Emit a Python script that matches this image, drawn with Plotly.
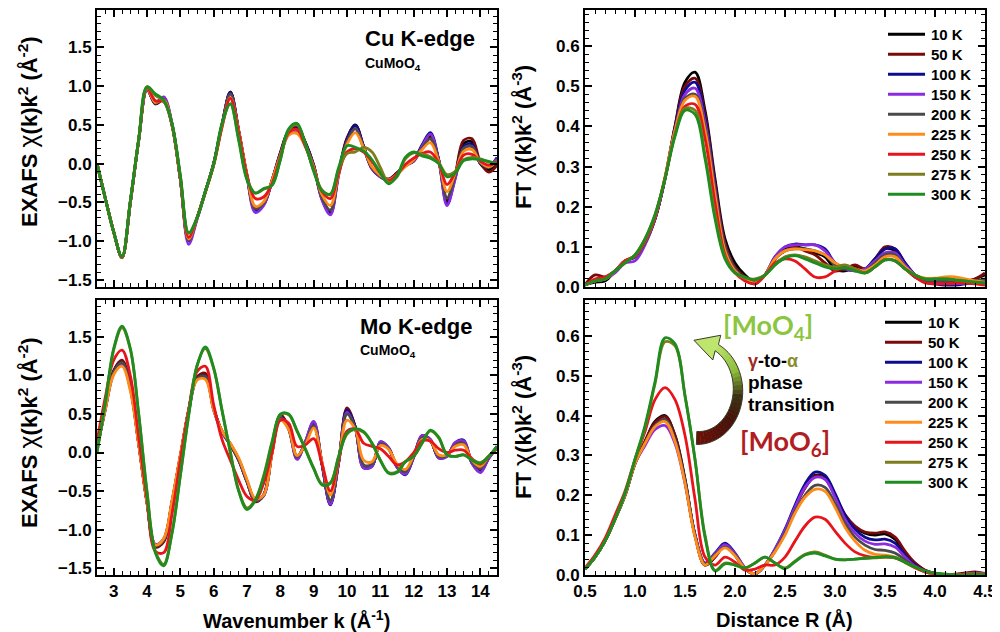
import math
import plotly.graph_objects as go

# ---------------- data ----------------
temps = ["10 K", "50 K", "100 K", "150 K", "200 K", "225 K", "250 K", "275 K", "300 K"]
colors = ["#000000", "#7a0a0a", "#0c0c8c", "#8a2be2", "#4a4a4a", "#ff8c1a", "#e8141c", "#7d7d1e", "#1e8c1e"]

k_grid = [2.5, 2.75, 3.0, 3.25, 3.5, 3.75, 4.0, 4.25, 4.5, 4.75,
          5.0, 5.25, 5.5, 5.75, 6.0, 6.25, 6.5, 6.75, 7.0, 7.25,
          7.5, 7.75, 8.0, 8.25, 8.5, 8.75, 9.0, 9.25, 9.5, 9.75,
          10.0, 10.25, 10.5, 10.75, 11.0, 11.25, 11.5, 11.75, 12.0, 12.25,
          12.5, 12.75, 13.0, 13.25, 13.5, 13.75, 14.0, 14.25, 14.5]

R_grid = [0.5, 0.6, 0.7, 0.8, 0.9, 1.0, 1.1, 1.2, 1.3, 1.4,
          1.5, 1.6, 1.7, 1.8, 1.9, 2.0, 2.1, 2.2, 2.3, 2.4,
          2.5, 2.6, 2.7, 2.8, 2.9, 3.0, 3.1, 3.2, 3.3, 3.4,
          3.5, 3.6, 3.7, 3.8, 3.9, 4.0, 4.1, 4.2, 4.3, 4.4,
          4.5]

# Cu K-edge EXAFS chi(k)k^2
cu_k_10K = [0.00, -0.45, -0.88, -1.21, -0.50, 0.30, 0.97, 0.77, 0.82, 0.50,
            -0.20, -0.98, -0.70, -0.36, 0.00, 0.50, 0.92, 0.42, -0.15, -0.58,
            -0.52, -0.22, 0.14, 0.42, 0.48, 0.27, -0.02, -0.45, -0.62, -0.12,
            0.32, 0.50, 0.22, -0.06, -0.16, -0.20, -0.12, -0.02, 0.04, 0.22,
            0.36, 0.05, -0.48, -0.15, 0.26, 0.28, 0.00, -0.08, 0.02]
cu_k_50K = [0.00, -0.45, -0.88, -1.21, -0.50, 0.30, 0.96, 0.77, 0.83, 0.50,
            -0.20, -0.99, -0.70, -0.36, 0.00, 0.50, 0.92, 0.43, -0.15, -0.58,
            -0.52, -0.22, 0.13, 0.42, 0.47, 0.27, -0.02, -0.44, -0.61, -0.11,
            0.33, 0.49, 0.21, -0.07, -0.17, -0.20, -0.12, -0.02, 0.03, 0.20,
            0.33, 0.05, -0.46, -0.13, 0.30, 0.32, 0.02, -0.11, -0.02]
cu_k_100K = [0.00, -0.45, -0.88, -1.21, -0.50, 0.30, 0.96, 0.78, 0.84, 0.51,
             -0.20, -1.00, -0.71, -0.36, 0.00, 0.50, 0.92, 0.42, -0.16, -0.60,
             -0.53, -0.22, 0.12, 0.40, 0.45, 0.27, -0.03, -0.46, -0.64, -0.13,
             0.31, 0.49, 0.22, -0.06, -0.17, -0.21, -0.13, -0.03, 0.04, 0.24,
             0.40, 0.05, -0.52, -0.18, 0.22, 0.25, 0.00, -0.04, 0.08]
cu_k_150K = [0.00, -0.45, -0.88, -1.21, -0.50, 0.30, 0.95, 0.79, 0.86, 0.52,
             -0.20, -1.04, -0.72, -0.37, 0.00, 0.50, 0.90, 0.42, -0.17, -0.63,
             -0.54, -0.22, 0.11, 0.37, 0.40, 0.24, -0.04, -0.47, -0.66, -0.15,
             0.28, 0.45, 0.20, -0.06, -0.17, -0.22, -0.14, -0.03, 0.03, 0.22,
             0.38, 0.04, -0.54, -0.19, 0.19, 0.22, 0.01, -0.03, 0.06]
cu_k_200K = [0.00, -0.45, -0.88, -1.21, -0.50, 0.30, 0.96, 0.78, 0.83, 0.50,
             -0.20, -0.99, -0.70, -0.36, 0.00, 0.50, 0.90, 0.42, -0.16, -0.58,
             -0.51, -0.22, 0.12, 0.40, 0.44, 0.25, -0.03, -0.44, -0.60, -0.13,
             0.28, 0.45, 0.20, -0.05, -0.16, -0.21, -0.13, -0.02, 0.04, 0.20,
             0.32, 0.04, -0.44, -0.15, 0.20, 0.22, 0.01, -0.05, 0.04]
cu_k_225K = [0.00, -0.45, -0.88, -1.21, -0.49, 0.31, 0.97, 0.79, 0.82, 0.50,
             -0.19, -0.97, -0.70, -0.37, -0.02, 0.47, 0.85, 0.42, -0.14, -0.55,
             -0.49, -0.22, 0.10, 0.37, 0.39, 0.22, -0.05, -0.40, -0.54, -0.13,
             0.25, 0.40, 0.20, -0.04, -0.15, -0.21, -0.14, -0.04, 0.05, 0.18,
             0.27, 0.03, -0.36, -0.12, 0.16, 0.18, 0.02, -0.04, 0.03]
cu_k_250K = [0.00, -0.45, -0.88, -1.21, -0.49, 0.31, 0.98, 0.81, 0.80, 0.50,
             -0.18, -0.95, -0.70, -0.37, -0.02, 0.47, 0.84, 0.40, -0.15, -0.45,
             -0.43, -0.26, 0.08, 0.40, 0.44, 0.22, -0.07, -0.36, -0.45, -0.12,
             0.15, 0.19, 0.15, 0.03, -0.12, -0.22, -0.14, -0.01, 0.07, 0.13,
             0.15, 0.01, -0.27, -0.11, 0.11, 0.12, 0.03, -0.02, 0.02]
cu_k_275K = [0.00, -0.45, -0.88, -1.20, -0.48, 0.31, 0.99, 0.88, 0.81, 0.51,
             -0.16, -0.90, -0.70, -0.36, -0.01, 0.50, 0.77, 0.32, -0.20, -0.38,
             -0.33, -0.28, 0.05, 0.43, 0.50, 0.26, -0.09, -0.34, -0.40, -0.07,
             0.13, 0.15, 0.21, 0.15, -0.05, -0.24, -0.17, 0.06, 0.14, 0.12,
             0.09, 0.01, -0.14, -0.10, 0.05, 0.08, 0.06, 0.02, 0.00]
cu_k_300K = [0.00, -0.45, -0.88, -1.20, -0.48, 0.31, 0.99, 0.90, 0.82, 0.52,
             -0.15, -0.89, -0.70, -0.36, -0.01, 0.52, 0.77, 0.30, -0.21, -0.38,
             -0.32, -0.28, 0.05, 0.45, 0.52, 0.25, -0.10, -0.35, -0.39, -0.05,
             0.23, 0.21, 0.16, 0.05, -0.12, -0.26, -0.16, 0.08, 0.15, 0.10,
             0.07, 0.00, -0.17, -0.12, 0.04, 0.06, 0.05, 0.03, 0.00]

# Mo K-edge EXAFS chi(k)k^2
mo_k_10K = [0.05, 0.58, 1.06, 1.19, 0.85, 0.12, -0.65, -1.22, -1.15, -0.65,
            -0.05, 0.55, 0.98, 1.01, 0.57, 0.27, 0.10, -0.10, -0.38, -0.63,
            -0.55, 0.00, 0.48, 0.32, -0.05, 0.12, 0.37, -0.15, -0.66, -0.12,
            0.56, 0.33, -0.18, -0.17, 0.12, 0.05, -0.18, -0.27, -0.05, 0.20,
            0.16, -0.06, -0.04, 0.11, 0.13, -0.13, -0.23, -0.07, 0.07]
mo_k_50K = [0.05, 0.58, 1.06, 1.20, 0.86, 0.12, -0.65, -1.23, -1.16, -0.65,
            -0.05, 0.55, 0.98, 1.03, 0.58, 0.27, 0.10, -0.10, -0.38, -0.64,
            -0.55, 0.00, 0.49, 0.32, -0.06, 0.12, 0.38, -0.15, -0.67, -0.12,
            0.58, 0.33, -0.18, -0.17, 0.12, 0.05, -0.18, -0.27, -0.05, 0.19,
            0.15, -0.06, -0.04, 0.10, 0.12, -0.12, -0.22, -0.07, 0.06]
mo_k_100K = [0.05, 0.57, 1.04, 1.17, 0.84, 0.12, -0.64, -1.20, -1.13, -0.64,
             -0.05, 0.54, 0.96, 0.99, 0.56, 0.27, 0.11, -0.09, -0.37, -0.62,
             -0.56, 0.00, 0.47, 0.31, -0.08, 0.14, 0.40, -0.15, -0.68, -0.13,
             0.55, 0.33, -0.20, -0.18, 0.14, 0.06, -0.19, -0.29, -0.06, 0.22,
             0.17, -0.07, -0.05, 0.13, 0.16, -0.14, -0.25, -0.07, 0.08]
mo_k_150K = [0.05, 0.56, 1.02, 1.15, 0.83, 0.12, -0.63, -1.19, -1.12, -0.64,
             -0.05, 0.53, 0.95, 0.98, 0.55, 0.26, 0.11, -0.09, -0.37, -0.62,
             -0.56, 0.00, 0.46, 0.30, -0.09, 0.14, 0.40, -0.14, -0.67, -0.13,
             0.52, 0.31, -0.20, -0.18, 0.14, 0.06, -0.19, -0.28, -0.06, 0.22,
             0.17, -0.07, -0.05, 0.13, 0.15, -0.14, -0.26, -0.08, 0.06]
mo_k_200K = [0.05, 0.57, 1.04, 1.17, 0.84, 0.12, -0.64, -1.21, -1.14, -0.65,
             -0.05, 0.54, 0.96, 0.99, 0.56, 0.28, 0.11, -0.09, -0.37, -0.62,
             -0.55, 0.00, 0.46, 0.31, -0.06, 0.11, 0.35, -0.14, -0.62, -0.12,
             0.50, 0.31, -0.16, -0.15, 0.11, 0.05, -0.17, -0.25, -0.05, 0.19,
             0.15, -0.05, -0.04, 0.10, 0.12, -0.12, -0.21, -0.06, 0.06]
mo_k_225K = [0.05, 0.56, 1.01, 1.12, 0.80, 0.10, -0.65, -1.20, -1.12, -0.62,
             -0.03, 0.55, 0.94, 0.95, 0.55, 0.28, 0.12, -0.07, -0.35, -0.60,
             -0.55, -0.02, 0.42, 0.30, -0.04, 0.10, 0.32, -0.12, -0.55, -0.10,
             0.42, 0.30, -0.10, -0.12, 0.09, 0.04, -0.15, -0.22, -0.04, 0.17,
             0.15, -0.03, -0.03, 0.08, 0.10, -0.10, -0.18, -0.05, 0.05]
mo_k_250K = [0.15, 0.72, 1.20, 1.33, 1.00, 0.20, -0.60, -1.28, -1.30, -0.80,
             -0.10, 0.55, 1.05, 1.12, 0.62, 0.17, -0.10, -0.36, -0.57, -0.62,
             -0.40, 0.00, 0.42, 0.38, 0.08, 0.10, 0.18, -0.15, -0.50, -0.10,
             0.28, 0.30, 0.12, 0.08, 0.05, -0.05, -0.16, -0.12, 0.00, 0.15,
             0.15, 0.05, 0.00, 0.03, 0.03, -0.08, -0.15, -0.05, 0.05]
mo_k_275K = [0.00, 0.64, 1.33, 1.62, 1.34, 0.50, -0.50, -1.28, -1.45, -1.04,
             -0.30, 0.49, 1.13, 1.35, 1.09, 0.55, 0.01, -0.49, -0.72, -0.61,
             -0.30, 0.14, 0.49, 0.49, 0.28, 0.05, -0.20, -0.41, -0.39, -0.05,
             0.24, 0.30, 0.26, 0.12, -0.10, -0.26, -0.25, -0.12, -0.05, 0.12,
             0.28, 0.19, -0.03, -0.05, -0.03, -0.09, -0.13, -0.05, 0.07]
mo_k_300K = [0.00, 0.65, 1.35, 1.64, 1.35, 0.50, -0.52, -1.30, -1.47, -1.05,
             -0.30, 0.48, 1.12, 1.37, 1.10, 0.55, 0.00, -0.50, -0.74, -0.62,
             -0.32, 0.12, 0.50, 0.50, 0.28, 0.04, -0.21, -0.42, -0.40, -0.05,
             0.25, 0.31, 0.27, 0.12, -0.10, -0.27, -0.26, -0.12, -0.05, 0.12,
             0.29, 0.20, -0.03, -0.05, -0.03, -0.10, -0.14, -0.05, 0.08]

# Cu K-edge FT magnitude
cu_R_10K = [0.005, 0.012, 0.015, 0.040, 0.065, 0.075, 0.110, 0.170, 0.270, 0.400,
            0.510, 0.535, 0.440, 0.270, 0.120, 0.060, 0.030, 0.012, 0.030, 0.070,
            0.095, 0.100, 0.095, 0.085, 0.075, 0.045, 0.040, 0.050, 0.045, 0.070,
            0.095, 0.090, 0.055, 0.025, 0.015, 0.015, 0.015, 0.010, 0.010, 0.020,
            0.030]
cu_R_50K = [0.005, 0.030, 0.025, 0.040, 0.065, 0.075, 0.110, 0.170, 0.270, 0.400,
            0.500, 0.520, 0.430, 0.260, 0.110, 0.050, 0.025, 0.010, 0.030, 0.070,
            0.090, 0.100, 0.090, 0.080, 0.060, 0.040, 0.045, 0.055, 0.045, 0.070,
            0.100, 0.095, 0.060, 0.030, 0.020, 0.015, 0.010, 0.010, 0.015, 0.020,
            0.035]
cu_R_100K = [0.005, 0.015, 0.020, 0.040, 0.065, 0.075, 0.110, 0.170, 0.270, 0.395,
             0.490, 0.510, 0.420, 0.250, 0.100, 0.045, 0.020, 0.008, 0.030, 0.075,
             0.100, 0.107, 0.105, 0.105, 0.095, 0.060, 0.045, 0.040, 0.045, 0.070,
             0.095, 0.095, 0.060, 0.030, 0.012, 0.008, 0.005, 0.005, 0.008, 0.012,
             0.020]
cu_R_150K = [0.005, 0.015, 0.020, 0.035, 0.060, 0.065, 0.105, 0.170, 0.270, 0.390,
             0.480, 0.495, 0.410, 0.245, 0.100, 0.045, 0.020, 0.010, 0.030, 0.075,
             0.100, 0.105, 0.105, 0.105, 0.090, 0.060, 0.045, 0.040, 0.045, 0.065,
             0.085, 0.085, 0.055, 0.030, 0.015, 0.010, 0.008, 0.008, 0.010, 0.012,
             0.015]
cu_R_200K = [0.005, 0.015, 0.020, 0.040, 0.065, 0.075, 0.110, 0.170, 0.270, 0.390,
             0.470, 0.480, 0.400, 0.240, 0.100, 0.045, 0.020, 0.010, 0.030, 0.070,
             0.090, 0.095, 0.095, 0.090, 0.080, 0.055, 0.045, 0.045, 0.040, 0.060,
             0.080, 0.080, 0.050, 0.025, 0.015, 0.015, 0.015, 0.015, 0.015, 0.015,
             0.020]
cu_R_225K = [0.005, 0.015, 0.020, 0.040, 0.065, 0.078, 0.115, 0.175, 0.275, 0.390,
             0.465, 0.475, 0.390, 0.230, 0.090, 0.040, 0.020, 0.010, 0.030, 0.070,
             0.090, 0.095, 0.093, 0.090, 0.080, 0.060, 0.050, 0.045, 0.040, 0.055,
             0.075, 0.075, 0.050, 0.030, 0.022, 0.022, 0.025, 0.025, 0.020, 0.015,
             0.012]
cu_R_250K = [0.005, 0.020, 0.025, 0.040, 0.065, 0.078, 0.115, 0.175, 0.270, 0.380,
             0.450, 0.455, 0.370, 0.210, 0.080, 0.035, 0.015, 0.008, 0.030, 0.060,
             0.070, 0.065, 0.045, 0.025, 0.025, 0.040, 0.050, 0.045, 0.035, 0.050,
             0.068, 0.065, 0.045, 0.025, 0.010, 0.008, 0.008, 0.010, 0.010, 0.008,
             0.005]
cu_R_275K = [0.005, 0.015, 0.020, 0.040, 0.060, 0.080, 0.120, 0.180, 0.270, 0.380,
             0.445, 0.440, 0.330, 0.180, 0.075, 0.035, 0.022, 0.020, 0.030, 0.055,
             0.075, 0.080, 0.075, 0.065, 0.055, 0.050, 0.055, 0.045, 0.035, 0.050,
             0.068, 0.066, 0.045, 0.030, 0.020, 0.020, 0.020, 0.018, 0.015, 0.012,
             0.010]
cu_R_300K = [0.005, 0.015, 0.020, 0.040, 0.060, 0.080, 0.120, 0.180, 0.270, 0.375,
             0.440, 0.430, 0.320, 0.170, 0.070, 0.035, 0.025, 0.018, 0.030, 0.055,
             0.072, 0.078, 0.070, 0.060, 0.050, 0.045, 0.048, 0.040, 0.035, 0.050,
             0.067, 0.065, 0.045, 0.030, 0.020, 0.020, 0.020, 0.018, 0.015, 0.012,
             0.010]

# Mo K-edge FT magnitude
mo_R_10K = [0.015, 0.045, 0.085, 0.140, 0.200, 0.280, 0.335, 0.385, 0.400, 0.350,
            0.240, 0.100, 0.025, 0.045, 0.075, 0.050, 0.015, 0.003, 0.025, 0.060,
            0.110, 0.170, 0.220, 0.250, 0.245, 0.200, 0.150, 0.120, 0.105, 0.100,
            0.103, 0.090, 0.055, 0.030, 0.012, 0.004, 0.000, 0.000, 0.002, 0.004,
            0.002]
mo_R_50K = [0.015, 0.045, 0.085, 0.140, 0.200, 0.280, 0.335, 0.382, 0.398, 0.350,
            0.240, 0.100, 0.025, 0.045, 0.073, 0.050, 0.015, 0.003, 0.025, 0.060,
            0.110, 0.170, 0.218, 0.248, 0.242, 0.200, 0.152, 0.123, 0.108, 0.105,
            0.108, 0.095, 0.060, 0.030, 0.012, 0.004, 0.000, 0.002, 0.005, 0.008,
            0.004]
mo_R_100K = [0.015, 0.045, 0.085, 0.140, 0.200, 0.280, 0.330, 0.375, 0.390, 0.340,
             0.235, 0.100, 0.030, 0.055, 0.080, 0.055, 0.018, 0.003, 0.025, 0.065,
             0.115, 0.175, 0.228, 0.258, 0.250, 0.205, 0.150, 0.115, 0.095, 0.088,
             0.090, 0.080, 0.050, 0.025, 0.010, 0.004, 0.000, 0.000, 0.002, 0.004,
             0.002]
mo_R_150K = [0.015, 0.045, 0.085, 0.140, 0.200, 0.280, 0.325, 0.365, 0.375, 0.330,
             0.230, 0.100, 0.030, 0.053, 0.076, 0.053, 0.018, 0.003, 0.025, 0.065,
             0.112, 0.170, 0.220, 0.245, 0.240, 0.195, 0.140, 0.105, 0.085, 0.077,
             0.078, 0.070, 0.045, 0.022, 0.010, 0.004, 0.000, 0.000, 0.002, 0.005,
             0.003]
mo_R_200K = [0.015, 0.045, 0.085, 0.140, 0.200, 0.280, 0.330, 0.375, 0.390, 0.340,
             0.235, 0.100, 0.028, 0.050, 0.070, 0.050, 0.016, 0.003, 0.025, 0.060,
             0.105, 0.160, 0.200, 0.225, 0.220, 0.180, 0.130, 0.095, 0.075, 0.064,
             0.062, 0.055, 0.038, 0.020, 0.008, 0.003, 0.000, 0.000, 0.002, 0.004,
             0.002]
mo_R_225K = [0.015, 0.045, 0.085, 0.140, 0.200, 0.280, 0.330, 0.372, 0.385, 0.335,
             0.230, 0.095, 0.025, 0.048, 0.068, 0.048, 0.016, 0.003, 0.025, 0.058,
             0.100, 0.155, 0.195, 0.215, 0.210, 0.170, 0.120, 0.085, 0.062, 0.052,
             0.050, 0.045, 0.032, 0.018, 0.008, 0.003, 0.000, 0.000, 0.002, 0.003,
             0.002]
mo_R_250K = [0.018, 0.050, 0.092, 0.150, 0.210, 0.290, 0.360, 0.440, 0.470, 0.440,
             0.350, 0.190, 0.045, 0.025, 0.045, 0.032, 0.012, 0.015, 0.025, 0.025,
             0.045, 0.085, 0.123, 0.145, 0.140, 0.110, 0.080, 0.058, 0.048, 0.044,
             0.045, 0.043, 0.032, 0.018, 0.008, 0.003, 0.000, 0.000, 0.002, 0.003,
             0.002]
mo_R_275K = [0.015, 0.045, 0.085, 0.140, 0.205, 0.290, 0.370, 0.480, 0.585, 0.575,
             0.450, 0.290, 0.100, 0.012, 0.030, 0.025, 0.018, 0.030, 0.045, 0.030,
             0.018, 0.035, 0.052, 0.058, 0.050, 0.040, 0.038, 0.040, 0.042, 0.043,
             0.045, 0.043, 0.032, 0.020, 0.010, 0.005, 0.002, 0.000, 0.000, 0.002,
             0.000]
mo_R_300K = [0.015, 0.045, 0.085, 0.140, 0.205, 0.290, 0.375, 0.485, 0.595, 0.580,
             0.450, 0.290, 0.095, 0.010, 0.028, 0.025, 0.018, 0.030, 0.045, 0.030,
             0.016, 0.033, 0.050, 0.055, 0.048, 0.040, 0.038, 0.040, 0.042, 0.044,
             0.046, 0.044, 0.032, 0.020, 0.010, 0.005, 0.002, 0.000, 0.000, 0.002,
             0.000]

cu_k = [cu_k_10K, cu_k_50K, cu_k_100K, cu_k_150K, cu_k_200K, cu_k_225K, cu_k_250K, cu_k_275K, cu_k_300K]
mo_k = [mo_k_10K, mo_k_50K, mo_k_100K, mo_k_150K, mo_k_200K, mo_k_225K, mo_k_250K, mo_k_275K, mo_k_300K]
cu_R = [cu_R_10K, cu_R_50K, cu_R_100K, cu_R_150K, cu_R_200K, cu_R_225K, cu_R_250K, cu_R_275K, cu_R_300K]
mo_R = [mo_R_10K, mo_R_50K, mo_R_100K, mo_R_150K, mo_R_200K, mo_R_225K, mo_R_250K, mo_R_275K, mo_R_300K]

for name, group, grid in (("cu_k", cu_k, k_grid), ("mo_k", mo_k, k_grid),
                          ("cu_R", cu_R, R_grid), ("mo_R", mo_R, R_grid)):
    for i, s in enumerate(group):
        assert len(s) == len(grid), f"{name}[{i}] has {len(s)} points, expected {len(grid)}"

# ---------------- figure ----------------
# The page body has an 8 px margin, so the figure is 992x624 and all
# design coordinates (given in window pixels) are shifted by 8 px.
OFF = 8
W, H = 1000 - OFF, 632 - OFF


def px(x):
    return (x - OFF) / W


def py(y):
    return 1 - (y - OFF) / H


FONT = "Liberation Sans"
fig = go.Figure()

panels = [
    (cu_k, k_grid, "x", "y"),
    (cu_R, R_grid, "x2", "y2"),
    (mo_k, k_grid, "x3", "y3"),
    (mo_R, R_grid, "x4", "y4"),
]
for data, grid, xa, ya in panels:
    for i, t in enumerate(temps):
        fig.add_trace(go.Scatter(
            x=grid, y=data[i], xaxis=xa, yaxis=ya, mode="lines", name=t,
            line=dict(color=colors[i], width=2.8, shape="spline", smoothing=1.0),
            showlegend=False, hoverinfo="skip"))


def ax(**kw):
    d = dict(showline=True, linewidth=2, linecolor="black", mirror="allticks",
             ticks="inside", ticklen=7, tickwidth=1.5, tickcolor="black",
             showgrid=False, zeroline=False, automargin=False,
             tickfont=dict(family=FONT, size=17, color="black", weight="bold"))
    d.update(kw)
    return d


minor_k = dict(ticks="inside", ticklen=4, tickwidth=1.2, tickcolor="black", dtick=0.25, showgrid=False)
minor_R = dict(ticks="inside", ticklen=4, tickwidth=1.2, tickcolor="black", dtick=0.1, showgrid=False)
minor_ky = dict(ticks="inside", ticklen=4, tickwidth=1.2, tickcolor="black", dtick=0.1, showgrid=False)
minor_Ry = dict(ticks="inside", ticklen=4, tickwidth=1.2, tickcolor="black", dtick=0.02, showgrid=False)

left_dom = [px(97), px(497)]
right_dom = [px(585), px(985)]
top_dom = [py(287), py(10)]
bot_dom = [py(575), py(300)]
k_ticks = [3, 4, 5, 6, 7, 8, 9, 10, 11, 12, 13, 14]
R_ticks = [0.5, 1.0, 1.5, 2.0, 2.5, 3.0, 3.5, 4.0, 4.5]
ky_ticks = [-1.5, -1.0, -0.5, 0.0, 0.5, 1.0, 1.5]
Ry_ticks = [0.0, 0.1, 0.2, 0.3, 0.4, 0.5, 0.6]

fig.update_layout(
    width=W, height=H, autosize=False,
    margin=dict(l=0, r=0, t=0, b=0, pad=0, autoexpand=False),
    paper_bgcolor="white", plot_bgcolor="white",
    showlegend=False,
    xaxis=ax(domain=left_dom, anchor="y", range=[2.5, 14.5], tickvals=k_ticks, showticklabels=False, minor=minor_k),
    yaxis=ax(domain=top_dom, anchor="x", range=[-1.59, 1.98], tickvals=ky_ticks, tickformat=".1f", minor=minor_ky),
    xaxis2=ax(domain=right_dom, anchor="y2", range=[0.5, 4.5], tickvals=R_ticks, showticklabels=False, minor=minor_R),
    yaxis2=ax(domain=top_dom, anchor="x2", range=[0, 0.69], tickvals=Ry_ticks, tickformat=".1f", minor=minor_Ry),
    xaxis3=ax(domain=left_dom, anchor="y3", range=[2.5, 14.5], tickvals=k_ticks, minor=minor_k),
    yaxis3=ax(domain=bot_dom, anchor="x3", range=[-1.59, 1.98], tickvals=ky_ticks, tickformat=".1f", minor=minor_ky),
    xaxis4=ax(domain=right_dom, anchor="y4", range=[0.5, 4.5], tickvals=R_ticks, tickformat=".1f", minor=minor_R),
    yaxis4=ax(domain=bot_dom, anchor="x4", range=[0, 0.69], tickvals=Ry_ticks, tickformat=".1f", minor=minor_Ry),
)

ann = []
shapes = []


def text(x, y, s, size, color="black", xanchor="center", angle=0, family=FONT, bold=True):
    ann.append(dict(x=px(x), y=py(y), xref="paper", yref="paper", text=s, showarrow=False,
                    xanchor=xanchor, yanchor="middle", textangle=angle,
                    font=dict(family=family, size=size, color=color, weight="bold" if bold else "normal")))


chi = "<span style='font-size:25px'>χ</span>"
ytitle_k = "<b>EXAFS </b>" + chi + "<b>(k)k<sup>2</sup> (Å<sup>-2</sup>)</b>"
ytitle_R = "<b>FT </b>" + chi + "<b>(k)k<sup>2</sup> (Å<sup>-3</sup>)</b>"
text(28, 132, ytitle_k, 22, angle=-90, bold=False)
text(28, 433, ytitle_k, 22, angle=-90, bold=False)
text(522, 137, ytitle_R, 22, angle=-90, bold=False)
text(522, 427, ytitle_R, 22, angle=-90, bold=False)
text(296, 619, "Wavenumber k (Å<sup>-1</sup>)", 20)
text(784, 619, "Distance R (Å)", 20)

text(363, 38, "Cu K-edge", 22, xanchor="left")
text(363, 64, "CuMoO<sub>4</sub>", 14, xanchor="left")
text(358, 326, "Mo K-edge", 22, xanchor="left")
text(358, 351, "CuMoO<sub>4</sub>", 14, xanchor="left")

text(768, 326, "[MoO<sub>4</sub>]", 27, color="#8cc63f", family="Lato")
text(785, 442, "[MoO<sub>6</sub>]", 27, color="#b01e23", family="Lato")
text(746, 361, "<span style='color:#9b2a1e'>γ</span>-to-<span style='color:#8c8c2a'>α</span>", 18, xanchor="left")
text(746, 382, "phase", 19, xanchor="left")
text(746, 404, "transition", 19, xanchor="left")

# ---- legends (key lines + labels) ----
for (lx0, lx1, tx, ty0) in ((888, 925, 929, 34.3), (885, 922, 926, 322.3)):
    for i, t in enumerate(temps):
        yy = ty0 + 20 * i
        shapes.append(dict(type="line", xref="paper", yref="paper",
                           x0=px(lx0), x1=px(lx1), y0=py(yy), y1=py(yy),
                           line=dict(color=colors[i], width=3), layer="above"))
        text(tx, yy, t, 15, xanchor="left")

fig.update_layout(annotations=ann)

# ---- curved gradient arrow (decoration) ----
cx, cy, rx, ry = 698.0, 390.0, 40.0, 48.0
t0, t1 = -92.0, 62.0
N = 30


def pt(t_deg, off):
    t = math.radians(t_deg)
    return (cx + (rx + off) * math.cos(t), cy - (ry + off) * math.sin(t))


def width(t_deg):
    f = (t_deg - t0) / (t1 - t0)
    return 13.0 - 6.0 * f


stops = [(0.0, (110, 16, 8)), (0.35, (70, 20, 10)), (0.55, (60, 50, 20)),
         (0.75, (140, 190, 60)), (1.0, (185, 225, 105))]


def grad(f):
    for (a, ca), (b, cb) in zip(stops[:-1], stops[1:]):
        if a <= f <= b:
            u = (f - a) / (b - a)
            c = [round(ca[j] + (cb[j] - ca[j]) * u) for j in range(3)]
            return "rgb(%d,%d,%d)" % tuple(c)
    return "rgb(185,225,105)"


def path_str(points):
    return "M " + " L ".join("%.5f,%.5f" % (px(x), py(y)) for x, y in points) + " Z"


ts = [t0 + (t1 - t0) * i / N for i in range(N + 1)]
for i in range(N):
    a, b = ts[i], ts[i + 1]
    wa, wb = width(a) / 2, width(b) / 2
    quad = [pt(a, wa), pt(b + 0.6, wb), pt(b + 0.6, -wb), pt(a, -wa)]
    shapes.append(dict(type="path", xref="paper", yref="paper", path=path_str(quad),
                       fillcolor=grad((i + 0.5) / N), line=dict(width=0), layer="above"))

tt = math.radians(75)
dx, dy = -rx * math.sin(tt), -ry * math.cos(tt)
nrm = math.hypot(dx, dy)
dx, dy = dx / nrm, dy / nrm
bx, by = pt(t1, 0)
tip = (bx + 24 * dx, by + 24 * dy)
cA = (bx + 13 * (-dy), by + 13 * dx)
cB = (bx - 13 * (-dy), by - 13 * dx)
shapes.append(dict(type="path", xref="paper", yref="paper", path=path_str([cA, tip, cB]),
                   fillcolor="rgb(190,230,110)", line=dict(width=0), layer="above"))

outer = [pt(t, width(t) / 2) for t in ts]
inner = [pt(t, -width(t) / 2) for t in ts]
if math.hypot(cA[0] - cx, cA[1] - cy) < math.hypot(cB[0] - cx, cB[1] - cy):
    cA, cB = cB, cA
outline = outer + [cA, tip, cB] + inner[::-1]
shapes.append(dict(type="path", xref="paper", yref="paper", path=path_str(outline),
                   fillcolor="rgba(0,0,0,0)", line=dict(width=1, color="#3a3a2a"), layer="above"))

fig.update_layout(shapes=shapes)

fig.write_html("out.html")
